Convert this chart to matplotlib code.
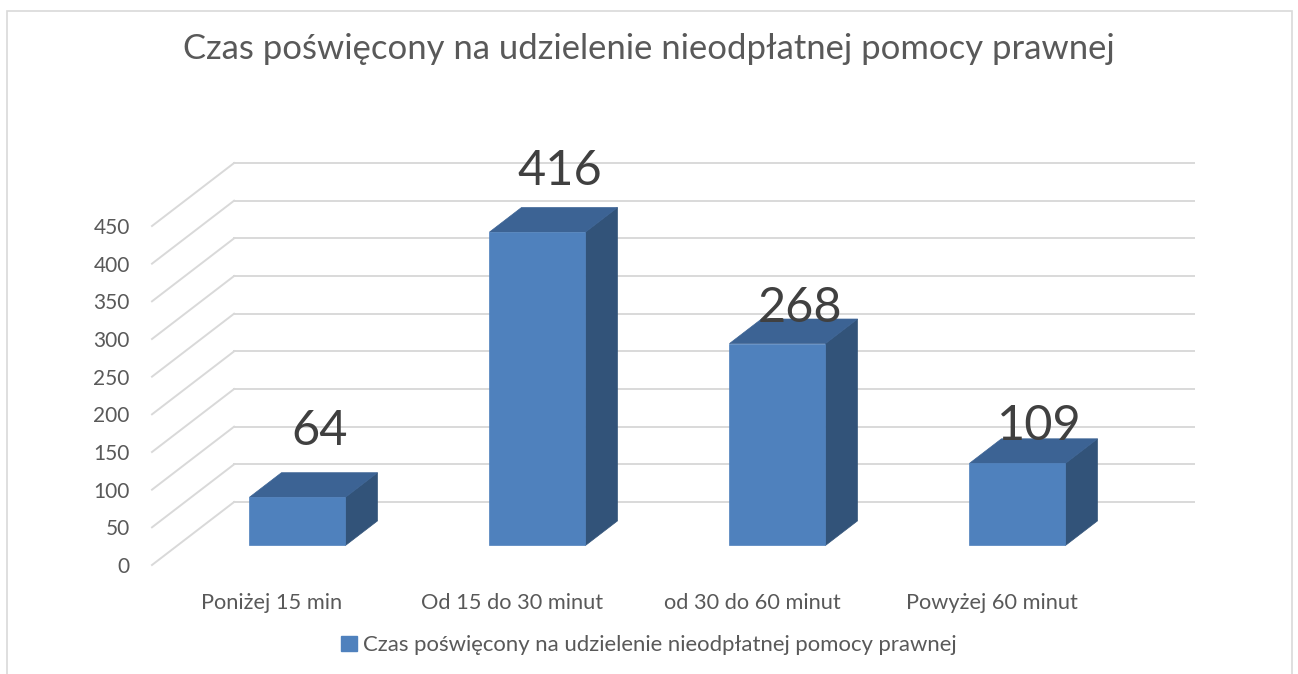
import matplotlib
matplotlib.use("Agg")
import matplotlib.pyplot as plt
from matplotlib.patches import Polygon, Rectangle
from matplotlib.lines import Line2D

plt.rcParams['font.family'] = ['Lato', 'DejaVu Sans']

# --- data -------------------------------------------------------------
categories = ["Poniżej 15 min", "Od 15 do 30 minut", "od 30 do 60 minut", "Powyżej 60 minut"]
values = [64, 416, 268, 109]
series_name = "Czas poświęcony na udzielenie nieodpłatnej pomocy prawnej"
title = "Czas poświęcony na udzielenie nieodpłatnej pomocy prawnej"
yticks = [0, 50, 100, 150, 200, 250, 300, 350, 400, 450]

# --- layout / style ---------------------------------------------------
W, H, DPI = 1298, 674, 100
FRONT = "#4F81BD"
TOP = "#3C6394"
SIDE = "#325379"
GRID = "#D9D9D9"
TEXT = "#595959"
LABEL = "#404040"

# oblique depth of the plot box, in data units (x: categories, y: values)
DX, DY = 0.342, 83.6
BAR_T0, BAR_T1 = 0.31, 0.70       # bar occupies this slice of the depth
HALF_W = 0.2                      # half bar width in category units
LABEL_T = 0.58                    # depth slice where value labels sit
LABEL_LIFT = [47, 40, 6, 8.5]     # baseline lift of value labels (value units)

fig = plt.figure(figsize=(W / DPI, H / DPI), dpi=DPI)
ax = fig.add_axes([152 / W, 109 / H, 960 / W, 339 / H])
ax.set_xlim(-0.5, len(categories) - 0.5)
ax.set_ylim(0, 450)
for s in ax.spines.values():
    s.set_visible(False)
ax.patch.set_visible(False)

# value axis ticks
ax.set_yticks(yticks)
ax.set_yticklabels([str(t) for t in yticks])
ax.tick_params(axis='y', length=0, pad=16, labelsize=15, labelcolor=TEXT)
ax.set_xticks(range(len(categories)))
ax.set_xticklabels(categories)
ax.tick_params(axis='x', length=0, pad=20, labelsize=15.7, labelcolor=TEXT)

# back wall gridlines and side wall diagonals
x_left, x_right = -0.5, len(categories) - 0.5
for v in yticks:
    ax.add_line(Line2D([x_left + DX, x_right + DX], [v + DY, v + DY],
                       color=GRID, lw=1.4, clip_on=False, zorder=1))
    ax.add_line(Line2D([x_left, x_left + DX], [v, v + DY],
                       color=GRID, lw=1.4, clip_on=False, zorder=1))


def pt(x, y, t):
    return (x + DX * t, y + DY * t)


# bars as oblique boxes
for i, v in enumerate(values):
    xl, xr = i - HALF_W, i + HALF_W
    side = [pt(xr, 0, BAR_T0), pt(xr, 0, BAR_T1), pt(xr, v, BAR_T1), pt(xr, v, BAR_T0)]
    top = [pt(xl, v, BAR_T0), pt(xr, v, BAR_T0), pt(xr, v, BAR_T1), pt(xl, v, BAR_T1)]
    front = [pt(xl, 0, BAR_T0), pt(xr, 0, BAR_T0), pt(xr, v, BAR_T0), pt(xl, v, BAR_T0)]
    for poly, col in ((side, SIDE), (top, TOP), (front, FRONT)):
        ax.add_patch(Polygon(poly, closed=True, facecolor=col, edgecolor=col,
                             lw=0.5, clip_on=False, zorder=3))
    lx, ly = pt(i, v, LABEL_T)
    ax.text(lx, ly + LABEL_LIFT[i], str(v), ha='center', va='baseline',
            fontsize=35, color=LABEL, zorder=5, clip_on=False)

# title
fig.text(0.5, 1 - 59 / H, title, ha='center', va='baseline',
         fontsize=24.9, color=TEXT)

# legend
fig.legend(handles=[Rectangle((0, 0), 1, 1, facecolor=FRONT, edgecolor=FRONT)],
           labels=[series_name], loc='center', bbox_to_anchor=(0.5, 1 - 645 / H),
           frameon=False, fontsize=15.9, labelcolor=TEXT,
           handlelength=0.7, handleheight=0.7, handletextpad=0.3)

# chart area border
fig.add_artist(Rectangle((7 / W, -0.05), (1292 - 7) / W, (H - 11) / H + 0.05,
                         transform=fig.transFigure, fill=False,
                         edgecolor=GRID, lw=1.2))

fig.savefig("out.png", dpi=DPI)
